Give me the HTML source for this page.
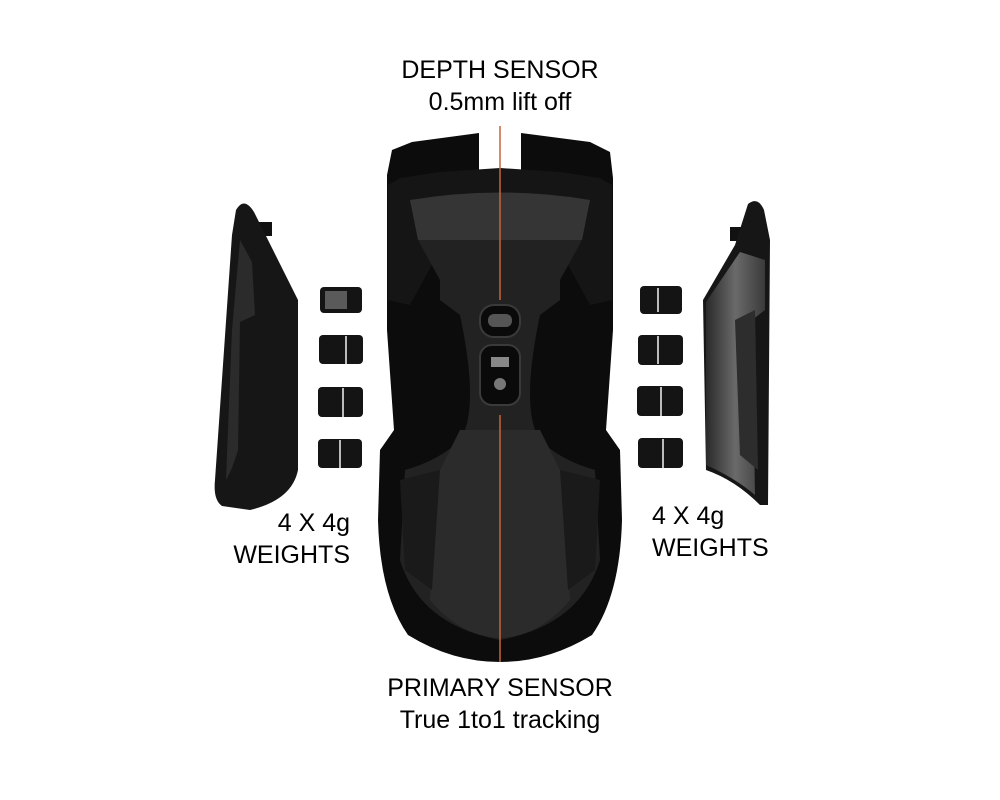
<!DOCTYPE html>
<html><head><meta charset="utf-8"><style>
html,body{margin:0;padding:0;background:#fff;}
.wrap{position:relative;width:1000px;height:800px;overflow:hidden;font-family:"Liberation Sans",sans-serif;color:#000;}
.t{position:absolute;font-size:25px;line-height:1;white-space:nowrap;}
svg{position:absolute;left:0;top:0;}
</style></head><body><div class="wrap">
<svg width="1000" height="800" viewBox="0 0 1000 800">
<defs>
<linearGradient id="gp" x1="0" y1="0" x2="1" y2="0"><stop offset="0" stop-color="#2a2a2a"/><stop offset="0.5" stop-color="#6a6a6a"/><stop offset="1" stop-color="#3a3a3a"/></linearGradient>
</defs>
<rect x="258" y="222" width="14" height="14" fill="#111"/>
<path d="M236,210 Q244,196 254,212 L298,300 L298,470 Q292,500 250,510 L222,506 Q213,500 215,480 L232,235 Z" fill="#161616"/>
<path d="M240,240 L252,262 L255,315 L240,322 L238,450 Q232,470 226,480 L232,330 Z" fill="#2b2b2b"/>
<rect x="730" y="227" width="12" height="14" fill="#111"/>
<path d="M748,204 Q758,196 764,210 L770,240 L768,505 L760,505 Q735,480 706,470 L703,300 L735,245 Z" fill="#161616"/>
<path d="M740,252 L706,302 L706,465 Q735,478 755,495 L752,320 L765,310 L765,260 Z" fill="url(#gp)"/>
<path d="M735,320 L755,310 L758,470 L740,455 Z" fill="#2d2d2d"/>
<g fill="#141414">
<rect x="320" y="287" width="42" height="26" rx="4"/><rect x="319" y="335" width="44" height="29" rx="4"/><rect x="318" y="387" width="45" height="30" rx="4"/><rect x="318" y="439" width="44" height="29" rx="4"/>
<rect x="640" y="286" width="42" height="28" rx="4"/><rect x="638" y="335" width="45" height="30" rx="4"/><rect x="637" y="386" width="46" height="30" rx="4"/><rect x="638" y="438" width="45" height="30" rx="4"/>
</g>
<rect x="325" y="291" width="22" height="18" fill="#5a5a5a"/>
<g fill="#bbb"><rect x="345" y="336" width="2" height="28"/><rect x="342" y="388" width="2" height="29"/><rect x="339" y="440" width="2" height="28"/>
<rect x="657" y="336" width="2" height="28"/><rect x="660" y="387" width="2" height="29"/><rect x="662" y="439" width="2" height="29"/><rect x="657" y="288" width="2" height="24"/></g>
<path d="M387,175 L392,150 L412,142 L479,133 L479,185 L521,185 L521,133 L590,142 L610,152 L613,178 L613,330 L606,430 L620,450 L622,520 Q620,595 592,635 Q548,662 500,662 Q452,662 408,635 Q380,595 378,520 L380,450 L394,430 L387,330 Z" fill="#0c0c0c"/>
<path d="M400,178 L440,172 L500,168 L560,172 L600,178 L612,185 L612,300 L590,305 L560,250 L440,250 L410,305 L388,300 L388,185 Z" fill="#151515"/>
<path d="M410,200 Q500,185 590,200 L582,240 L418,240 Z" fill="#353535"/>
<path d="M418,240 L582,240 L560,280 L560,300 L540,315 Q520,410 540,440 Q560,460 595,470 L600,560 Q580,625 500,640 Q420,625 400,560 L405,470 Q440,460 460,440 Q480,410 460,315 L440,300 L440,280 Z" fill="#222"/>
<path d="M460,430 L540,430 L560,470 L570,600 Q540,636 500,638 Q460,636 430,600 L440,470 Z" fill="#2b2b2b"/>
<path d="M400,480 L440,470 L432,590 L405,570 Z" fill="#1a1a1a"/>
<path d="M600,480 L560,470 L568,590 L595,570 Z" fill="#1a1a1a"/>
<rect x="480" y="305" width="40" height="32" rx="14" fill="#0a0a0a" stroke="#3a3a3a" stroke-width="2"/>
<rect x="488" y="314" width="24" height="13" rx="6" fill="#555"/>
<rect x="480" y="345" width="40" height="60" rx="12" fill="#0a0a0a" stroke="#3a3a3a" stroke-width="2"/>
<rect x="491" y="357" width="18" height="10" fill="#888"/>
<circle cx="500" cy="384" r="6" fill="#777"/>
<line x1="500" y1="126" x2="500" y2="300" stroke="#c8643a" stroke-width="1.5"/>
<line x1="500" y1="415" x2="500" y2="662" stroke="#c8643a" stroke-width="1.5"/>
</svg>
<div class="t" style="left:0;width:1000px;text-align:center;top:58px;">DEPTH SENSOR</div>
<div class="t" style="left:0;width:1000px;text-align:center;top:90px;">0.5mm lift off</div>
<div class="t" style="left:0;width:1000px;text-align:center;top:676px;">PRIMARY SENSOR</div>
<div class="t" style="left:0;width:1000px;text-align:center;top:708px;">True 1to1 tracking</div>
<div class="t" style="right:650px;text-align:right;top:511px;">4 X 4g</div>
<div class="t" style="right:650px;text-align:right;top:543px;">WEIGHTS</div>
<div class="t" style="left:652px;top:504px;">4 X 4g</div>
<div class="t" style="left:652px;top:536px;">WEIGHTS</div>
</div></body></html>
